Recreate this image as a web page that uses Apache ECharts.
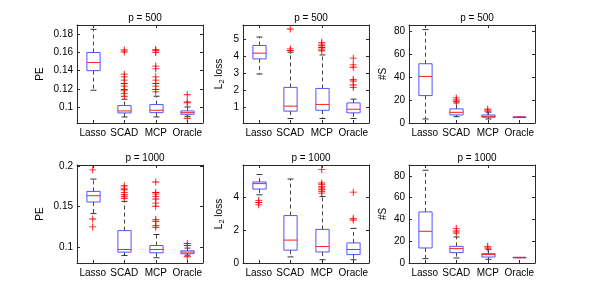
<!DOCTYPE html>
<html>
<head>
<meta charset="utf-8">
<script src="https://cdn.jsdelivr.net/npm/echarts@6/dist/echarts.min.js"></script>
<style>
html,body{margin:0;padding:0;background:#fff;}
#c{width:591px;height:297px;}
</style>
</head>
<body>
<div id="c"></div>
<script>
// ---------- data ----------
const methods = ['Lasso', 'SCAD', 'MCP', 'Oracle'];
const titles = ['p = 500', 'p = 500', 'p = 500', 'p = 1000', 'p = 1000', 'p = 1000'];
const yNames = ['PE', 'L{s|2} loss', '#S', 'PE', 'L{s|2} loss', '#S'];

// box stats: [lower whisker, Q1, median, Q3, upper whisker]
const pe500Box = [[0.1184, 0.140, 0.149, 0.160, 0.1855], [0.089, 0.0934, 0.0956, 0.1015, 0.1085], [0.089, 0.0937, 0.0963, 0.1026, 0.1118], [0.0897, 0.0919, 0.0937, 0.0956, 0.100]];
const pe500Out = [[], [0.1627, 0.1605, 0.1361, 0.1332, 0.1295, 0.1258, 0.1229, 0.1192, 0.1177, 0.1147, 0.1118], [0.1634, 0.1619, 0.1601, 0.145, 0.142, 0.1332, 0.1295, 0.1258, 0.1229, 0.1192, 0.1166], [0.1135, 0.1055, 0.1045, 0.0875]];

const l2500Box = [[2.95, 3.83, 4.16, 4.61, 5.1], [0.36, 0.79, 1.08, 2.17, 4.22], [0.36, 0.84, 1.18, 2.11, 4.06], [0.36, 0.69, 0.90, 1.27, 1.49]];
const l2500Out = [[], [5.57, 4.41, 4.32], [4.79, 4.69, 4.59, 4.49, 4.40, 4.30], [3.87, 3.48, 3.34, 2.64, 2.54, 2.31, 2.17]];

const s500Box = [[3.5, 23.9, 40.6, 51.7, 81.5], [5.5, 7, 9.3, 12.3, 17.5], [3.5, 5, 5.8, 7, 9.5], [5, 5, 5, 5, 5]];
const s500Out = [[], [21.9, 20.1, 18.7], [12, 10.5], []];

const pe1000Box = [[0.141, 0.1553, 0.1631, 0.1684, 0.1836], [0.0893, 0.0934, 0.0967, 0.120, 0.1561], [0.0865, 0.0926, 0.0967, 0.1016, 0.1152], [0.0897, 0.0914, 0.0934, 0.0951, 0.0984]];
const pe1000Out = [[0.195, 0.1344, 0.1246], [0.1754, 0.1725, 0.1705, 0.1672, 0.1643, 0.1623, 0.160], [0.18, 0.167, 0.165, 0.162, 0.159, 0.154, 0.15, 0.1336, 0.1316, 0.1262, 0.1242], [0.104, 0.1016, 0.0877]];

const l21000Box = [[4.14, 4.49, 4.82, 4.92, 5.37], [0.37, 0.78, 1.39, 2.88, 5.1], [0.2, 0.67, 1.0, 2.04, 4.04], [0.2, 0.51, 0.82, 1.22, 2.1]];
const l21000Out = [[3.8, 3.67, 3.53], [], [5.67, 4.86, 4.76, 4.65, 4.55, 4.45, 4.35, 4.24], [4.3, 2.71, 2.61]];

const s1000Box = [[4, 13.8, 29.1, 46.9, 85.2], [4.6, 9.5, 13.2, 15.3, 23.9], [3.4, 5.5, 7.7, 8.6, 12.6], [5, 5, 5, 5, 5]];
const s1000Out = [[], [31.6, 29.4, 27.6], [15.3, 13.8], []];

const boxes = [pe500Box, l2500Box, s500Box, pe1000Box, l21000Box, s1000Box];
const outs = [pe500Out, l2500Out, s500Out, pe1000Out, l21000Out, s1000Out];

// axis ranges (layout config)
const yRanges = [[0.0823, 0.1903, 5], [0.1, 5.8, 5], [0, 85.5, 4], [0.08, 0.201, 2], [0, 5.95, 3], [0, 90, 4]];
const lefts = [77, 243, 409];
const tops = [25, 165];
const W = 126, H = 98;

const FONT = 'Liberation Sans, Arial, Helvetica, sans-serif';
const AXC = '#2a2a2a';

const grids = [], xAxes = [], yAxes = [], series = [], titleArr = [];

function renderBox(params, api) {
  const x = api.value(0);
  const lw = api.coord([x, api.value(1)]);
  const q1 = api.coord([x, api.value(2)]);
  const md = api.coord([x, api.value(3)]);
  const q3 = api.coord([x, api.value(4)]);
  const uw = api.coord([x, api.value(5)]);
  const bw = api.size([1, 0])[0] * 0.42;
  const cw = 6;
  const cx = Math.round(lw[0]) + 0.5;
  const hx = bw / 2;
  const dash = { stroke: '#444', lineWidth: 1, lineDash: [4, 3] };
  const solid = { stroke: '#333', lineWidth: 1 };
  const flat = Math.abs(q1[1] - q3[1]) < 0.5;
  return {
    type: 'group',
    children: [
      { type: 'line', shape: { x1: cx, y1: q3[1], x2: cx, y2: uw[1] }, style: dash },
      { type: 'line', shape: { x1: cx, y1: q1[1], x2: cx, y2: lw[1] }, style: dash },
      { type: 'line', shape: { x1: cx - cw / 2, y1: uw[1], x2: cx + cw / 2, y2: uw[1] }, style: solid },
      { type: 'line', shape: { x1: cx - cw / 2, y1: lw[1], x2: cx + cw / 2, y2: lw[1] }, style: solid },
      { type: 'rect', shape: { x: cx - hx, y: q3[1], width: bw, height: q1[1] - q3[1] }, style: { fill: 'none', stroke: '#5252ff', lineWidth: 1 } },
      { type: 'line', shape: { x1: cx - hx, y1: md[1], x2: cx + hx, y2: md[1] }, style: { stroke: flat ? '#c8246a' : '#ff2020', lineWidth: flat ? 1.6 : 1 } }
    ]
  };
}

const plus = 'path://M-0.5,-4 h1 v8 h-1 z M-4,-0.5 h8 v1 h-8 z';

for (let i = 0; i < 6; i++) {
  const r = Math.floor(i / 3), c = i % 3;
  grids.push({ left: lefts[c], top: tops[r], width: W, height: H, containLabel: false });
  titleArr.push({
    text: titles[i], left: lefts[c] + W / 2, top: tops[r] - 17, textAlign: 'center',
    textStyle: { fontFamily: FONT, fontSize: 10, fontWeight: 'normal', color: '#000' }
  });
  const xb = {
    type: 'category', gridIndex: i, data: methods, position: 'bottom',
    axisLine: { show: true, onZero: false, lineStyle: { color: AXC, width: 1 } },
    axisTick: { show: true, inside: true, alignWithLabel: true, length: 3, lineStyle: { color: AXC } },
    axisLabel: { fontFamily: FONT, fontSize: 10, color: '#000', margin: 5, interval: 0 },
    splitLine: { show: false }
  };
  const xt = Object.assign({}, xb, { position: 'top', axisLabel: { show: false } });
  xAxes.push(xb, xt);
  const [ymin, ymax, sn] = yRanges[i];
  const yl = {
    type: 'value', gridIndex: i, min: ymin, max: ymax, splitNumber: sn, position: 'left',
    name: yNames[i], nameLocation: 'middle', nameGap: (c === 0 ? 30 : (c === 1 ? 17 : 18)),
    nameTextStyle: {
      fontFamily: FONT, fontSize: 10, color: '#000', lineHeight: 14,
      rich: { s: { fontFamily: FONT, fontSize: 7.5, color: '#000', lineHeight: 8, verticalAlign: 'bottom' } }
    },
    axisLine: { show: true, onZero: false, lineStyle: { color: AXC, width: 1 } },
    axisTick: { show: true, inside: true, length: 3, lineStyle: { color: AXC } },
    axisLabel: { fontFamily: FONT, fontSize: 10, color: '#000', margin: 4, showMinLabel: ymin === 0, showMaxLabel: false },
    splitLine: { show: false }
  };
  const yr = {
    type: 'value', gridIndex: i, min: ymin, max: ymax, splitNumber: sn, position: 'right',
    axisLine: { show: true, onZero: false, lineStyle: { color: AXC, width: 1 } },
    axisTick: { show: true, inside: true, length: 3, lineStyle: { color: AXC } },
    axisLabel: { show: false }, splitLine: { show: false }
  };
  yAxes.push(yl, yr);

  const bdata = boxes[i].map((b, k) => [k].concat(b));
  series.push({
    type: 'custom', xAxisIndex: 2 * i, yAxisIndex: 2 * i, renderItem: renderBox,
    encode: { x: 0, y: [1, 2, 3, 4, 5] }, data: bdata, silent: true, z: 2
  });
  const odata = [];
  outs[i].forEach((arr, k) => arr.forEach(v => odata.push([k, v])));
  series.push({
    type: 'scatter', xAxisIndex: 2 * i, yAxisIndex: 2 * i, data: odata,
    symbol: plus, symbolSize: 7, itemStyle: { color: '#ff0000', opacity: 1 }, silent: true, z: 3
  });
}

const chart = echarts.init(document.getElementById('c'), null, { renderer: 'canvas' });
chart.setOption({
  animation: false,
  backgroundColor: '#fff',
  title: titleArr,
  grid: grids,
  xAxis: xAxes,
  yAxis: yAxes,
  series: series
});
</script>
</body>
</html>
